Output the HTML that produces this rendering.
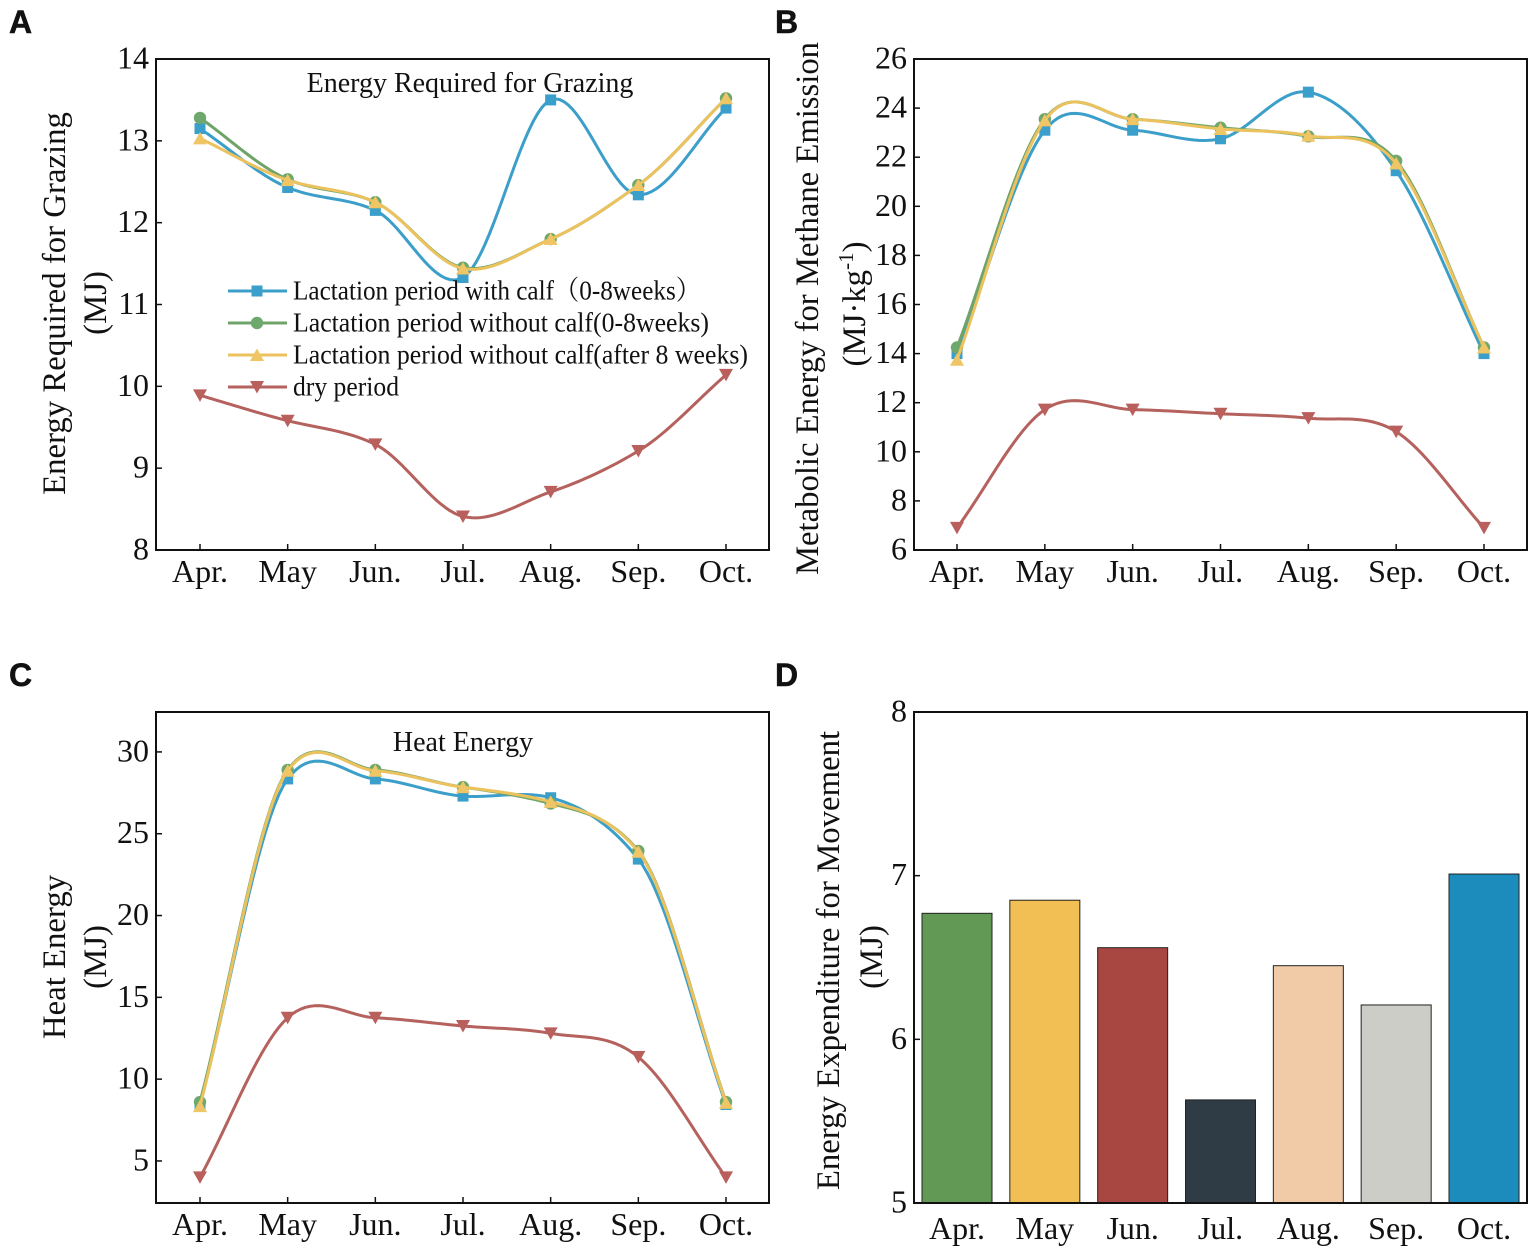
<!DOCTYPE html>
<html lang="en">
<head>
<meta charset="utf-8">
<title>Energy charts</title>
<style>
html,body{margin:0;padding:0;background:#fff;}
svg{display:block;}
text{font-family:"Liberation Serif","Noto Serif CJK SC",serif;fill:#111;}
.letter{font-family:"Liberation Sans",sans-serif;font-weight:700;font-size:32px;stroke:#111;stroke-width:.5px;}
.ytitle{font-size:32.8px;text-anchor:middle;}
.ptitle{font-size:28px;text-anchor:middle;}
.legend-text{font-size:27px;}
.tick{font-size:32px;}
</style>
</head>
<body>
<svg id="figure" xmlns="http://www.w3.org/2000/svg" width="1535" height="1252" viewBox="0 0 1535 1252">
  <rect width="1535" height="1252" fill="#fff"/>
  <text class="letter" x="9" y="33">A</text>
  <text class="letter" x="775" y="33">B</text>
  <text class="letter" x="9" y="686">C</text>
  <text class="letter" x="775" y="686">D</text>

  <text class="ytitle" transform="translate(65,303.5) rotate(-90)">Energy Required for Grazing</text>
  <text class="ytitle" transform="translate(106,303) rotate(-90)">(MJ)</text>
  <text class="ytitle" transform="translate(818,308.5) rotate(-90)" textLength="533" lengthAdjust="spacingAndGlyphs">Metabolic Energy for Methane Emission</text>
  <text class="ytitle" transform="translate(865,304) rotate(-90)">(MJ·kg<tspan font-size="21" dy="-12">-1</tspan><tspan dy="12">)</tspan></text>
  <text class="ytitle" transform="translate(65,957) rotate(-90)">Heat Energy</text>
  <text class="ytitle" transform="translate(106,957) rotate(-90)">(MJ)</text>
  <text class="ytitle" transform="translate(839,960.5) rotate(-90)">Energy Expenditure for Movement</text>
  <text class="ytitle" transform="translate(882,957) rotate(-90)">(MJ)</text>

  <text class="ptitle" x="470" y="92">Energy Required for Grazing</text>
  <text class="ptitle" x="463" y="751">Heat Energy</text>
</svg>
<script>
// ---- chart data ----
const months = ["Apr.", "May", "Jun.", "Jul.", "Aug.", "Sep.", "Oct."];
const seriesNames = ["Lactation period with calf（0-8weeks）", "Lactation period without calf(0-8weeks)", "Lactation period without calf(after 8 weeks)", "dry period"];

const grazingWithCalf = [13.15, 12.43, 12.15, 11.33, 13.50, 12.34, 13.40];
const grazingNoCalfEarly = [13.28, 12.53, 12.25, 11.45, 11.80, 12.46, 13.52];
const grazingNoCalfLate = [13.03, 12.52, 12.25, 11.44, 11.80, 12.46, 13.52];
const grazingDry = [9.89, 9.58, 9.29, 8.41, 8.71, 9.21, 10.14];
const grazingTicks = [8, 9, 10, 11, 12, 13, 14];

const methaneWithCalf = [14.00, 23.10, 23.10, 22.75, 24.65, 21.45, 14.00];
const methaneNoCalfEarly = [14.25, 23.55, 23.55, 23.20, 22.85, 21.85, 14.25];
const methaneNoCalfLate = [13.75, 23.50, 23.55, 23.15, 22.88, 21.75, 14.25];
const methaneDry = [6.90, 11.72, 11.72, 11.55, 11.37, 10.82, 6.90];
const methaneTicks = [6, 8, 10, 12, 14, 16, 18, 20, 22, 24, 26];

const heatWithCalf = [8.45, 28.35, 28.35, 27.30, 27.20, 23.45, 8.45];
const heatNoCalfEarly = [8.60, 28.90, 28.90, 27.85, 26.85, 23.95, 8.60];
const heatNoCalfLate = [8.35, 28.85, 28.85, 27.85, 26.95, 23.90, 8.55];
const heatDry = [4.00, 13.75, 13.75, 13.25, 12.80, 11.35, 4.00];
const heatTicks = [5, 10, 15, 20, 25, 30];

const movementValues = [6.77, 6.85, 6.56, 5.63, 6.45, 6.21, 7.01];
const movementTicks = [5, 6, 7, 8];

// ---- styling ----
const lineColors = ["#3c9fc9", "#6fa468", "#ecc25f", "#b5615d"];
const markerColors = ["#3a9fca", "#6fa86c", "#efc565", "#b95f5c"];
const barColors = ["#629955", "#f2bf55", "#a84642", "#2f3c46", "#f1cba8", "#cccdc7", "#1b8cbc"];
const legendWidths = [408, 416, 455, 106];
const svg = document.getElementById("figure");
const NS = "http://www.w3.org/2000/svg";

function mk(tag, attrs, parent) {
  const el = document.createElementNS(NS, tag);
  for (const k in attrs) el.setAttribute(k, attrs[k]);
  (parent || svg).appendChild(el);
  return el;
}

function makeScale(d0, d1, r0, r1) {
  return v => r0 + (v - d0) * (r1 - r0) / (d1 - d0);
}

// cardinal Hermite curve through the data; returns an interpolation function
function smoothCurve(ys, tension) {
  const n = ys.length, m = [];
  for (let i = 0; i < n; i++) {
    if (i === 0) m.push(ys[1] - ys[0]);
    else if (i === n - 1) m.push(ys[n - 1] - ys[n - 2]);
    else m.push(tension * (ys[i + 1] - ys[i - 1]) / 2);
  }
  return t => {
    const i = Math.min(Math.floor(t), n - 2), u = t - i, u2 = u * u, u3 = u2 * u;
    return (2 * u3 - 3 * u2 + 1) * ys[i] + (u3 - 2 * u2 + u) * m[i] + (-2 * u3 + 3 * u2) * ys[i + 1] + (u3 - u2) * m[i + 1];
  };
}

function drawMarker(g, kind, cx, cy, color) {
  if (kind === 0) {
    mk("rect", {x: cx - 5.5, y: cy - 5.5, width: 11, height: 11, fill: color}, g);
  } else if (kind === 1) {
    mk("circle", {cx: cx, cy: cy, r: 6.2, fill: color}, g);
  } else if (kind === 2) {
    mk("path", {d: `M${cx - 7} ${cy + 6}L${cx + 7} ${cy + 6}L${cx} ${cy - 6.5}Z`, fill: color}, g);
  } else {
    mk("path", {d: `M${cx - 7} ${cy - 6}L${cx + 7} ${cy - 6}L${cx} ${cy + 6.5}Z`, fill: color}, g);
  }
}

function drawFrame(p, key) {
  const frame = mk("rect", {x: p.left, y: p.top, width: p.right - p.left, height: p.bottom - p.top, fill: "none", stroke: "#111", "stroke-width": 2});
  
  
}

function drawAxes(p, key, ticks, yScale, xScale, showXTicks) {
  ticks.forEach(t => {
    const y = yScale(t);
    const mark = mk("line", {x1: p.left, x2: p.left + 6, y1: y, y2: y, stroke: "#111", "stroke-width": 1.5});
    
    
    const label = mk("text", {class: "tick", x: p.left - 7, y: y + 9.5, "text-anchor": "end"});
    
    
    label.textContent = t;
  });
  months.forEach((m, i) => {
    const x = xScale(i);
    if (showXTicks) {
      const mark = mk("line", {x1: x, x2: x, y1: p.bottom, y2: p.bottom - 6, stroke: "#111", "stroke-width": 1.5});
      
      
    }
    const label = mk("text", {class: "tick", x: x, y: p.bottom + p.labelGap, "text-anchor": "middle"});
    
    
    label.textContent = m;
  });
}

function drawLinePanel(p, key, allSeries, ticks) {
  const xScale = makeScale(0, 6, p.x0, p.x1);
  const yScale = makeScale(p.yMin, p.yMax, p.bottom, p.top);
  allSeries.forEach((values, s) => {
    const g = mk("g", {});
    
    
    const f = smoothCurve(values, s === 3 ? p.dryTension : p.tension);
    const pts = [];
    for (let t = 0; t <= 6.0001; t += 0.05) {
      pts.push(xScale(Math.min(t, 6)).toFixed(2) + "," + yScale(f(Math.min(t, 6))).toFixed(2));
    }
    const line = mk("polyline", {points: pts.join(" "), fill: "none", stroke: lineColors[s], "stroke-width": 3, "stroke-linejoin": "round"}, g);
    
    
    values.forEach((v, i) => {
      drawMarker(g, s, xScale(i), yScale(v), markerColors[s]);
    });
  });
  drawFrame(p, key);
  drawAxes(p, key, ticks, yScale, xScale, true);
}

function drawBarPanel(p, key, values, ticks) {
  const xScale = makeScale(0, 6, p.x0, p.x1);
  const yScale = makeScale(p.yMin, p.yMax, p.bottom, p.top);
  const barWidth = 70;
  values.forEach((v, i) => {
    const top = yScale(v);
    const bar = mk("rect", {x: xScale(i) - barWidth / 2, y: top, width: barWidth, height: yScale(p.yMin) - top, fill: barColors[i], stroke: "#222", "stroke-width": 1});
    
    
  });
  drawFrame(p, key);
  drawAxes(p, key, ticks, yScale, xScale, false);
}

function drawLegend() {
  const legend = mk("g", {});
  
  
  seriesNames.forEach((name, s) => {
    const y = 291 + s * 32;
    const entry = mk("g", {}, legend);
    
    
    mk("line", {x1: 228, x2: 287, y1: y, y2: y, stroke: lineColors[s], "stroke-width": 3}, entry);
    drawMarker(entry, s, 257, y, markerColors[s]);
    const label = mk("text", {class: "legend-text", x: 293, y: y + 8.5, textLength: legendWidths[s], lengthAdjust: "spacingAndGlyphs"}, entry);
    
    
    label.textContent = name;
  });
}

drawLinePanel({left: 156, right: 769, top: 59, bottom: 550, x0: 200, x1: 726, yMin: 8, yMax: 14, labelGap: 32, tension: 0.9, dryTension: 0.9}, "a",
  [grazingWithCalf, grazingNoCalfEarly, grazingNoCalfLate, grazingDry], grazingTicks);
drawLegend();
drawLinePanel({left: 914, right: 1527, top: 59, bottom: 550, x0: 957, x1: 1484, yMin: 6, yMax: 26, labelGap: 32, tension: 1, dryTension: 1}, "b",
  [methaneWithCalf, methaneNoCalfEarly, methaneNoCalfLate, methaneDry], methaneTicks);
drawLinePanel({left: 156, right: 769, top: 712, bottom: 1203, x0: 200, x1: 726, yMin: 2.43, yMax: 32.44, labelGap: 32, tension: 0.72, dryTension: 1}, "c",
  [heatWithCalf, heatNoCalfEarly, heatNoCalfLate, heatDry], heatTicks);
drawBarPanel({left: 914, right: 1527, top: 712, bottom: 1203, x0: 957, x1: 1484, yMin: 5, yMax: 8, labelGap: 36}, "d",
  movementValues, movementTicks);
</script>
</body>
</html>
